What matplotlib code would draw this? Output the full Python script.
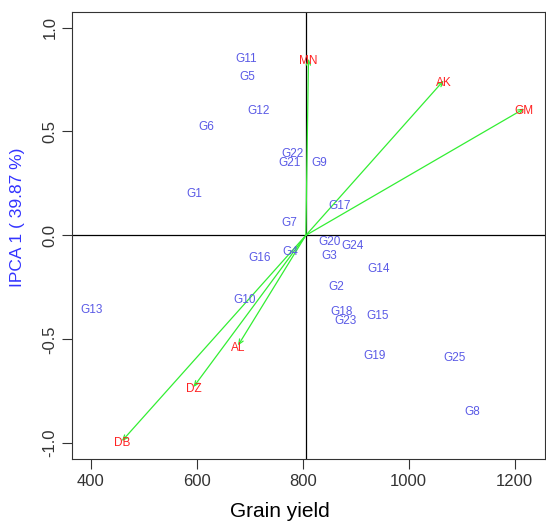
import matplotlib
matplotlib.use("Agg")
import matplotlib.pyplot as plt

plt.rcParams['font.family'] = ['Liberation Sans', 'DejaVu Sans']

# genotypes: grain yield vs IPCA 1 score
genotypes = ["G1", "G2", "G3", "G4", "G5", "G6", "G7", "G8", "G9", "G10",
             "G11", "G12", "G13", "G14", "G15", "G16", "G17", "G18", "G19",
             "G20", "G21", "G22", "G23", "G24", "G25"]
gen_yield = [595, 863, 850, 776, 696, 619, 775, 1120, 831, 690,
             693, 716, 402, 943, 941, 719, 870, 873, 935,
             850, 775, 781, 880, 895, 1086]
gen_ipca = [0.20, -0.25, -0.10, -0.08, 0.76, 0.52, 0.06, -0.85, 0.35, -0.31,
            0.85, 0.60, -0.36, -0.16, -0.39, -0.11, 0.14, -0.37, -0.58,
            -0.03, 0.35, 0.39, -0.41, -0.05, -0.59]

# environments
envs = ["MN", "AK", "GM", "AL", "DZ", "DB"]
env_yield = [811, 1066, 1218, 678, 594, 459]
env_ipca = [0.85, 0.745, 0.61, -0.53, -0.73, -0.99]

grand_mean = 806

fig = plt.figure(figsize=(5.46, 5.23), dpi=100)
ax = fig.add_axes([0.132, 0.122, 0.866, 0.856])

ax.axhline(0, color='black', lw=0.9, zorder=1)
ax.axvline(grand_mean, color='black', lw=0.9, zorder=1)

for x, y in zip(env_yield, env_ipca):
    ax.annotate("", xy=(x, y), xytext=(grand_mean, 0),
                arrowprops=dict(arrowstyle='->,head_length=0.35,head_width=0.15',
                                color='#33ee33', lw=0.9, shrinkA=0, shrinkB=0),
                zorder=2)

for name, x, y in zip(envs, env_yield, env_ipca):
    ax.text(x, y - 0.01, name, color='#ff2222', fontsize=8.5, ha='center',
            va='center', zorder=3)

for name, x, y in zip(genotypes, gen_yield, gen_ipca):
    ax.text(x, y, name, color='#5a5ae6', fontsize=8.5, ha='center',
            va='center', zorder=3)

ax.set_xlim(365, 1257)
ax.set_ylim(-1.077, 1.077)
ax.set_xticks([400, 600, 800, 1000, 1200])
ax.set_yticks([-1.0, -0.5, 0.0, 0.5, 1.0])
ax.set_yticklabels(["-1.0", "-0.5", "0.0", "0.5", "1.0"], rotation=90,
                   va='center')
ax.tick_params(labelsize=12, length=7, color='#333333', labelcolor='#333333')
for s in ax.spines.values():
    s.set_color('#333333')

ax.set_xlabel("Grain yield", fontsize=15)
ax.xaxis.set_label_coords(0.44, -0.095)
ax.set_ylabel("IPCA 1 ( 39.87 %)", fontsize=12.5, color='#3333ff')
ax.yaxis.set_label_coords(-0.10, 0.54)

fig.savefig("out.png", dpi=100)
